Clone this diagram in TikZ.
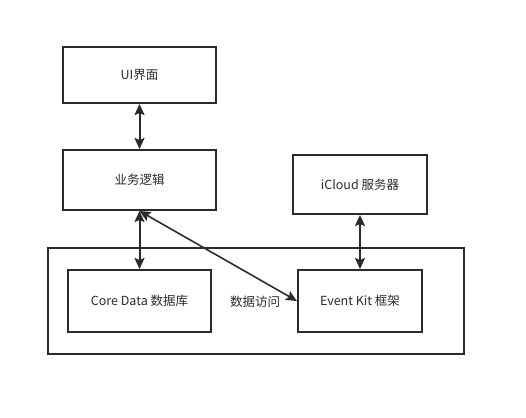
\documentclass[tikz,border=0pt]{standalone}
\usepackage{fontspec}
\setmainfont{Noto Sans CJK SC}
\usetikzlibrary{arrows.meta}
\definecolor{boxline}{HTML}{2B2B2B}

\begin{document}
\begin{tikzpicture}[x=1pt,y=-1pt,
    block/.style={draw=boxline,line width=2pt,minimum width=#1,inner sep=0pt},
    link/.style={draw=boxline,line width=2pt,{Stealth[length=11pt,width=10pt,inset=2pt]}-{Stealth[length=11pt,width=10pt,inset=2pt]}},
    every node/.style={font=\fontsize{12.5}{15}\selectfont,text=boxline}]
            \useasboundingbox (0,0) rectangle (526,417);
            \draw[draw=boxline,line width=2pt] (48,248) rectangle (464,354);
            \node[block=153pt,minimum height=56pt] (ui) at (139.5,75) {UI界面};
            \node[block=153pt,minimum height=60pt] (biz) at (139.5,180) {业务逻辑};
            \node[block=134pt,minimum height=59pt] (icloud) at (360,184.5) {iCloud 服务器};
            \node[block=143pt,minimum height=62pt] (cd) at (139.5,301) {Core Data 数据库};
            \node[block=124pt,minimum height=62pt] (ek) at (360,301) {Event Kit 框架};
            \node (access) at (255,302) {数据访问};
            \draw[link] (ui) -- (biz);
            \draw[link] (biz) -- (cd);
            \draw[link] (icloud) -- (ek);
            \draw[link,line width=1.6pt] (biz.south) -- (ek.west);
        \end{tikzpicture}
\end{document}
